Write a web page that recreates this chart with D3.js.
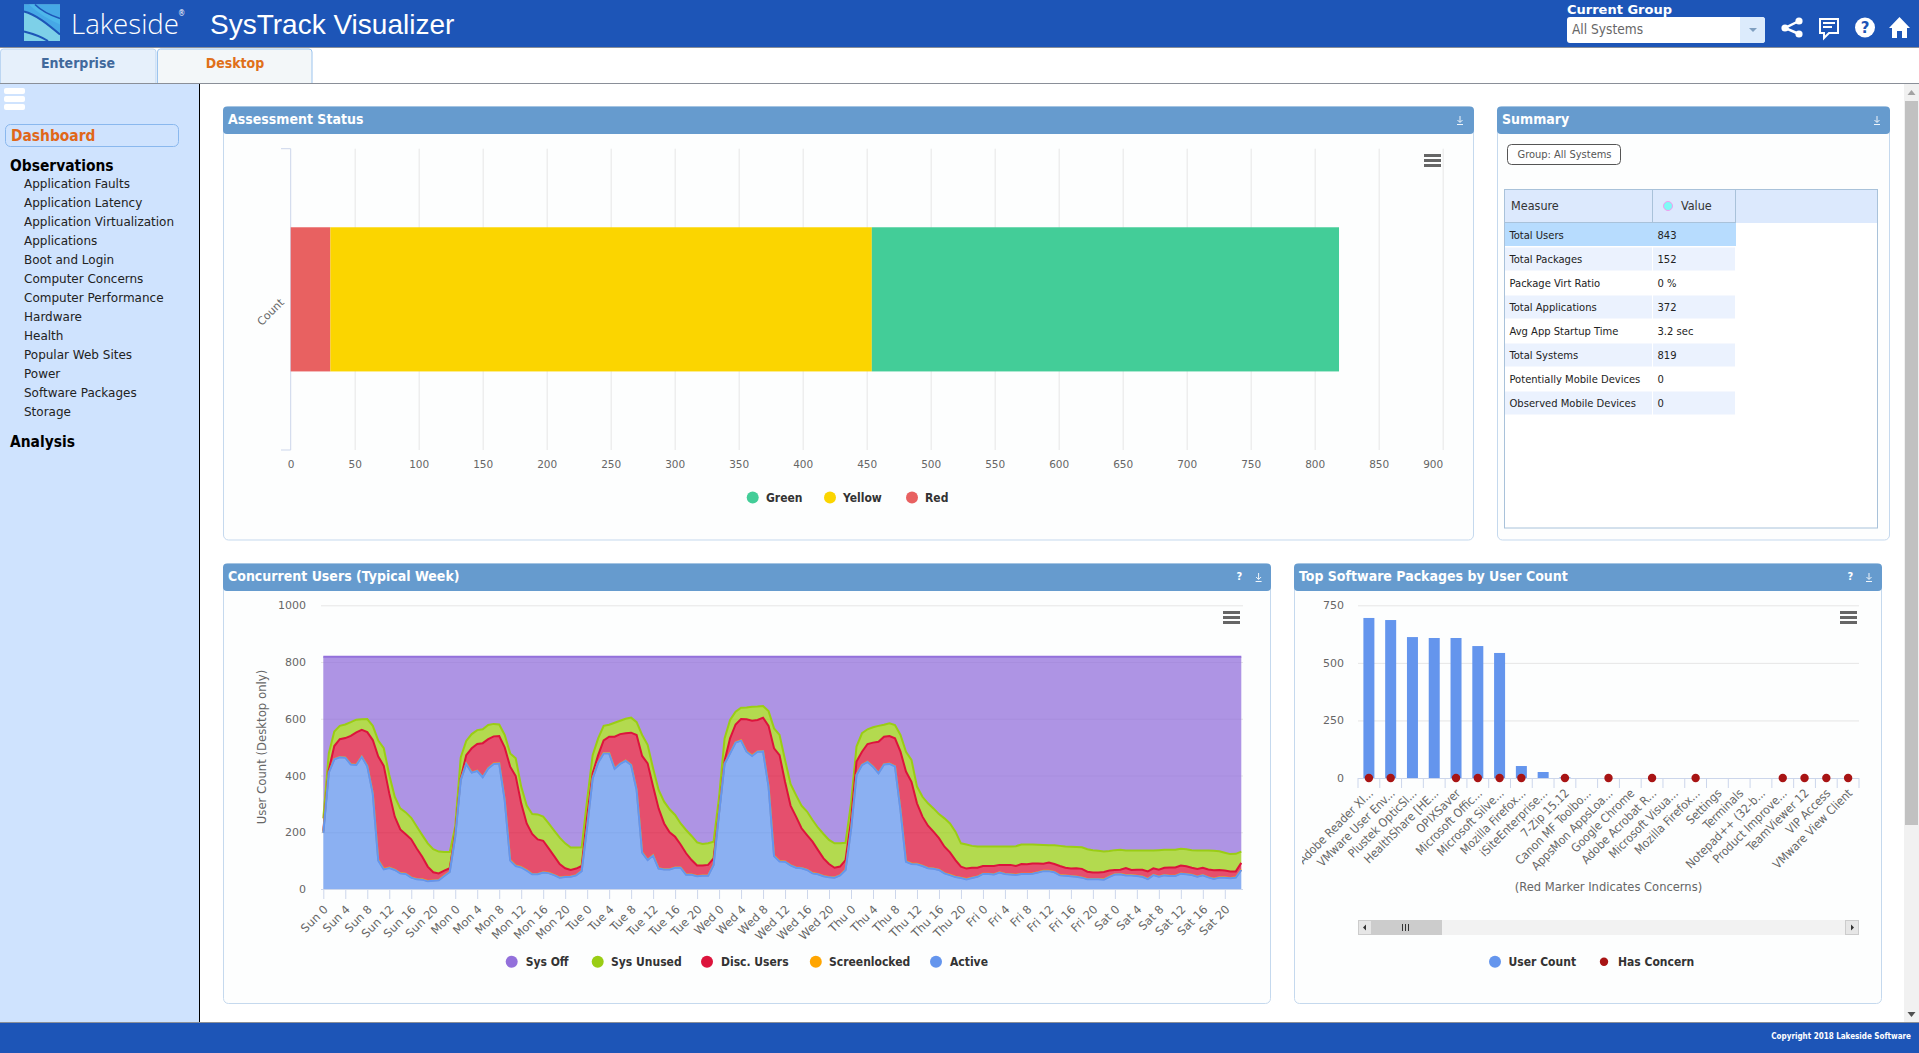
<!DOCTYPE html>
<html>
<head>
<meta charset="utf-8">
<title>SysTrack Visualizer</title>
<script src="https://cdnjs.cloudflare.com/ajax/libs/d3/7.8.5/d3.min.js"></script>
<style>
  html, body { margin: 0; padding: 0; background: #fff; overflow: hidden; }
  svg { display: block; }
  text { font-family: "DejaVu Sans Condensed", "DejaVu Sans", sans-serif; }
</style>
</head>
<body>
<svg id="page"></svg>
<script>
// assessment status
const statusNames = ["Red", "Yellow", "Green"];
const statusValues = [31, 423, 365];
const statusTicks = d3.range(0, 901, 50);

// summary table
const summaryMeasures = ["Total Users", "Total Packages", "Package Virt Ratio", "Total Applications", "Avg App Startup Time", "Total Systems", "Potentially Mobile Devices", "Observed Mobile Devices"];
const summaryValues = ["843", "152", "0 %", "372", "3.2 sec", "819", "0", "0"];

// side menu
const menuItems = ["Application Faults", "Application Latency", "Application Virtualization", "Applications", "Boot and Login", "Computer Concerns", "Computer Performance", "Hardware", "Health", "Popular Web Sites", "Power", "Software Packages", "Storage"];

// concurrent users, one row per day, each value is the top of that stacked layer
const dayNames = ["Sun", "Mon", "Tue", "Wed", "Thu", "Fri", "Sat"];
const activeTop = [
  198,410,457,464,463,439,437,466,433,337,100,69,74,67,55,53,40,34,33,27,29,31,46,60,
  184,384,441,410,416,394,425,441,442,314,100,81,76,65,52,52,58,56,49,40,42,43,48,63,
  220,390,445,478,478,424,441,452,437,349,128,102,118,72,69,69,75,75,50,50,45,47,47,85,
  267,441,478,516,523,484,469,484,485,361,116,97,96,83,75,73,67,55,52,45,41,40,48,67,
  208,402,437,448,431,408,439,441,432,278,96,88,87,81,73,71,67,55,49,42,39,34,39,43,
  53,53,51,58,53,51,49,53,53,54,58,63,63,59,48,47,45,43,40,34,34,34,33,43,
  51,52,48,48,46,43,35,49,43,48,46,46,54,52,49,43,48,41,35,40,40,38,40,67
];
const screenlocked = [
  1,1,1,1,1,1,1,1,1,1,2,2,2,1,1,1,1,1,1,1,1,1,1,1,
  1,1,1,1,1,1,1,1,1,1,2,2,2,2,1,1,1,1,1,1,1,1,1,1,
  1,1,1,1,1,1,1,1,1,1,2,1,1,1,1,1,1,1,1,1,1,1,1,1,
  1,1,1,1,1,1,2,1,1,1,2,2,1,1,1,1,1,1,1,1,1,1,1,1,
  1,1,1,1,1,1,1,1,1,1,2,2,2,1,1,1,1,1,1,1,1,1,1,1,
  1,1,1,1,1,1,1,1,1,1,1,1,1,1,1,1,1,1,1,1,1,1,1,1,
  1,1,1,1,1,1,1,1,1,1,1,1,1,1,1,1,1,1,1,1,1,1,1,1
];
const discTop = [
  205,420,504,528,532,540,552,561,553,525,467,434,337,255,210,193,175,143,114,79,59,55,65,73,
  196,390,472,496,511,514,528,538,539,499,431,398,302,231,194,175,170,143,116,88,73,67,72,81,
  255,408,472,524,537,537,546,549,551,543,469,443,361,284,231,200,184,157,126,102,83,83,85,108,
  272,452,531,580,599,598,593,596,604,575,496,472,378,294,255,214,190,167,137,108,88,75,79,102,
  243,449,484,511,516,519,537,539,531,484,414,378,302,255,223,202,179,149,129,102,79,72,75,75,
  81,81,81,85,85,85,81,88,87,90,90,89,93,88,81,75,72,73,71,61,58,58,60,65,
  67,68,74,67,68,68,62,73,68,75,76,76,83,80,75,71,75,69,66,67,65,62,62,92
];
const unusedTop = [
  249,478,555,575,580,588,597,598,599,575,523,496,402,325,284,270,251,220,190,161,140,132,130,130,
  220,464,522,546,560,563,578,582,580,543,478,461,361,294,264,263,255,231,206,181,161,146,146,147,
  314,472,531,575,579,586,593,600,604,588,543,508,425,349,308,281,261,231,208,187,164,159,161,167,
  325,531,596,625,639,640,642,643,645,627,566,543,455,370,331,294,273,243,216,194,173,161,161,163,
  302,502,549,563,570,575,579,584,578,543,484,455,361,325,302,284,264,249,231,202,161,157,152,150,
  150,150,150,150,150,150,151,157,157,157,156,155,154,154,152,150,149,148,147,140,137,135,132,134,
  137,138,136,136,136,136,136,136,137,138,138,138,142,140,137,136,136,136,135,133,128,123,124,132
];
const offTop = [
  819,819,819,819,819,819,819,819,819,819,819,819,819,819,819,819,819,819,819,819,819,819,819,819,
  819,819,819,819,819,819,819,819,819,819,819,819,819,819,819,819,819,819,819,819,819,819,819,819,
  819,819,819,819,819,819,819,819,819,819,819,819,819,819,819,819,819,819,819,819,819,819,819,819,
  819,819,819,819,819,819,819,819,819,819,819,819,819,819,819,819,819,819,819,819,819,819,819,819,
  819,819,819,819,819,819,819,819,819,819,819,819,819,819,819,819,819,819,819,819,819,819,819,819,
  819,819,819,819,819,819,819,819,819,819,819,819,819,819,819,819,819,819,819,819,819,819,819,819,
  819,819,819,819,819,819,819,819,819,819,819,819,819,819,819,819,819,819,819,819,819,819,819,819
];
const userTicks = [0, 200, 400, 600, 800, 1000];

// top software packages
const packageNames = ["Adobe Reader XI...", "VMware User Env...", "Plustek OpticSl...", "HealthShare [HE...", "OPIXSaver", "Microsoft Offic...", "Microsoft Silve...", "Mozilla Firefox...", "iSiteEnterprise...", "7-Zip 15.12", "Canon MF Toolbo...", "AppsMon AppsLoa...", "Google Chrome", "Adobe Acrobat R...", "Microsoft Visua...", "Mozilla Firefox...", "Settings", "Terminals", "Notepad++ (32-b...", "Product Improve...", "TeamViewer 12", "VIP Access", "VMware View Client"];
const packageUsers = [695, 686, 612, 608, 608, 573, 543, 52, 26, 3, 0, 0, 0, 0, 0, 0, 0, 0, 0, 0, 0, 0, 0];
const packageConcern = [1, 1, 0, 0, 1, 1, 1, 1, 0, 1, 0, 1, 0, 1, 0, 1, 0, 0, 0, 1, 1, 1, 1];
const packageTicks = [0, 250, 500, 750];

const width = 1919;
const height = 1053;
const headerBlue = "#1d55b7";
const panelBlue = "#669bce";
const gridColor = "#e6e6e6";
const axisColor = "#ccd6eb";
const labelColor = "#666666";
const wideFont = "'DejaVu Sans', sans-serif";

const svg = d3.select("#page").attr("width", width).attr("height", height);

const addText = (parent, x, y, str, size, fill, weight, anchor) => {
  return parent
    .append("text")
    .attr("x", x)
    .attr("y", y)
    .attr("dy", "0.35em")
    .attr("font-size", size)
    .attr("fill", fill)
    .attr("font-weight", weight || "normal")
    .attr("text-anchor", anchor || "start")
    .text(str);
};

const drawHeader = () => {
  svg.append("rect").attr("width", width).attr("height", 47).attr("fill", headerBlue);
  svg.append("rect").attr("y", 47).attr("width", width).attr("height", 1).attr("fill", "#8a8f98");

  // logo
  const logo = svg.append("g").attr("transform", "translate(24,4.5)");
  logo.append("rect").attr("width", 36).attr("height", 36.5).attr("fill", "#7dd0e8");
  logo.append("path").attr("d", "M0,0 H36 V30 C24,20 12,10 0,7 Z").attr("fill", "#46a8e6");
  logo.append("path").attr("d", "M11,0 C18,7 27,11 36,14 V20 C27,16 14,9 5,0 Z").attr("fill", "#4db6ea");
  logo.append("path").attr("d", "M0,7 C12,10 24,20 36,30").attr("fill", "none").attr("stroke", headerBlue).attr("stroke-width", 2);
  logo.append("path").attr("d", "M11,0 C18,7 27,11 36,14").attr("fill", "none").attr("stroke", headerBlue).attr("stroke-width", 1.6);
  logo.append("path").attr("d", "M0,27 C8,29 17,32 24,36.5").attr("fill", "none").attr("stroke", headerBlue).attr("stroke-width", 2);

  addText(svg, 71, 24, "Lakeside", 27.6, "#ffffff").style("font-family", "'Open Sans', sans-serif").attr("font-weight", 300);
  addText(svg, 178, 13, "®", 8, "#ffffff");
  addText(svg, 210, 24, "SysTrack Visualizer", 28, "#ffffff").style("font-family", "'Liberation Sans', sans-serif");

  addText(svg, 1567, 9.5, "Current Group", 13, "#ffffff", "bold").style("font-family", wideFont);
  svg.append("rect").attr("x", 1567).attr("y", 17).attr("width", 198).attr("height", 26).attr("rx", 3).attr("fill", "#ffffff");
  svg.append("path").attr("d", "M1740,17 H1762 a3,3 0 0 1 3,3 V40 a3,3 0 0 1 -3,3 H1740 Z").attr("fill", "#dcebfc");
  svg.append("path").attr("d", "M1749,28 h8 l-4,4 Z").attr("fill", "#7f9fc0");
  addText(svg, 1572, 29.3, "All Systems", 13.6, "#666666");

  // share icon
  const share = svg.append("g").attr("fill", "#ffffff").attr("stroke", "#ffffff");
  share.append("path").attr("d", "M1799,21 L1785,28 L1799,34").attr("fill", "none").attr("stroke-width", 2.5);
  [[1799, 21], [1785, 28], [1799, 34]].forEach((c) => {
    share.append("circle").attr("cx", c[0]).attr("cy", c[1]).attr("r", 3.6).attr("stroke", "none");
  });
  // chat icon
  svg.append("path").attr("d", "M1820,19 H1838 V33 H1829 L1824,38 V33 H1820 Z").attr("fill", "none").attr("stroke", "#ffffff").attr("stroke-width", 2);
  svg.append("path").attr("d", "M1823,23 H1835 M1823,27 H1832").attr("stroke", "#ffffff").attr("stroke-width", 2);
  // help icon
  svg.append("circle").attr("cx", 1865).attr("cy", 27.5).attr("r", 10).attr("fill", "#ffffff");
  addText(svg, 1865, 27.5, "?", 15, headerBlue, "bold", "middle").style("font-family", wideFont);
  // home icon
  svg.append("path").attr("d", "M1899.5,17 L1910,28 H1907 V38 H1902 V31 H1897 V38 H1892 V28 H1889 Z").attr("fill", "#ffffff");
};

const drawTabs = () => {
  svg.append("rect").attr("y", 83).attr("width", width).attr("height", 1).attr("fill", "#8a8f98");
  svg.append("path").attr("d", "M0.5,83 V52 a3,3 0 0 1 3,-3 H153 a3,3 0 0 1 3,3 V83").attr("fill", "#e6f0fb").attr("stroke", "#bcd6f2");
  svg.append("path").attr("d", "M157.5,83 V52 a3,3 0 0 1 3,-3 H309 a3,3 0 0 1 3,3 V83").attr("fill", "#f3f7f9").attr("stroke", "#9cc4ee");
  addText(svg, 78, 63, "Enterprise", 14, "#41699c", "bold", "middle");
  addText(svg, 235, 63, "Desktop", 14, "#e0701a", "bold", "middle");
};

const drawSideMenu = () => {
  svg.append("rect").attr("y", 84).attr("width", 199).attr("height", 939).attr("fill", "#cfe3fe");
  svg.append("rect").attr("x", 199).attr("y", 84).attr("width", 1).attr("height", 939).attr("fill", "#000000");
  [88, 96, 104].forEach((y) => {
    svg.append("rect").attr("x", 4).attr("y", y).attr("width", 21).attr("height", 6).attr("rx", 2).attr("fill", "#ffffff");
  });
  svg.append("rect").attr("x", 5.5).attr("y", 124.5).attr("width", 173).attr("height", 22).attr("rx", 5).attr("fill", "none").attr("stroke", "#8ab8ee");
  addText(svg, 11, 135.5, "Dashboard", 15.4, "#e0671a", "bold");
  addText(svg, 10, 166, "Observations", 15.4, "#000000", "bold");
  menuItems.forEach((item, i) => {
    addText(svg, 24, 183.3 + i * 19.02, item, 12, "#222222").style("font-family", wideFont);
  });
  addText(svg, 10, 442, "Analysis", 15.4, "#000000", "bold");
};

const drawFooter = () => {
  svg.append("rect").attr("y", 1022).attr("width", width).attr("height", 1).attr("fill", "#8a8f98");
  svg.append("rect").attr("y", 1023).attr("width", width).attr("height", 30).attr("fill", headerBlue);
  addText(svg, 1911, 1036, "Copyright 2018 Lakeside Software", 8, "#ffffff", "bold", "end");
};

const drawScrollbar = () => {
  svg.append("rect").attr("x", 1904).attr("y", 84).attr("width", 15).attr("height", 938).attr("fill", "#f1f1f1");
  svg.append("rect").attr("x", 1905).attr("y", 101).attr("width", 13).attr("height", 724).attr("fill", "#c1c1c1");
  svg.append("path").attr("d", "M1911.5,90 l4,5 h-8 Z").attr("fill", "#a3a3a3");
  svg.append("path").attr("d", "M1911.5,1017 l4,-5 h-8 Z").attr("fill", "#505050");
};

const drawDownloadIcon = (x, y) => {
  svg
    .append("path")
    .attr("d", `M${x},${y - 4} V${y + 2} M${x - 2.5},${y} L${x},${y + 2.5} L${x + 2.5},${y} M${x - 3},${y + 4.5} H${x + 3}`)
    .attr("fill", "none")
    .attr("stroke", "#ffffff")
    .attr("stroke-width", 0.9);
};

const drawPanel = (x, y, w, h, title, iconX, helpX) => {
  svg.append("rect").attr("x", x + 0.5).attr("y", y + 0.5).attr("width", w).attr("height", h).attr("rx", 5).attr("fill", "#fdfefe").attr("stroke", "#c5d9ee");
  svg
    .append("path")
    .attr("d", `M${x},${y + 27.5} V${y + 4} a4,4 0 0 1 4,-4 H${x + w - 3} a4,4 0 0 1 4,4 V${y + 23.5} a4,4 0 0 1 -4,4 H${x + 4} a4,4 0 0 1 -4,-4 Z`)
    .attr("fill", panelBlue);
  addText(svg, x + 5, y + 12.5, title, 14, "#ffffff", "bold");
  drawDownloadIcon(iconX, y + 13.5);
  if (helpX) {
    addText(svg, helpX, y + 13, "?", 11, "#ffffff", "bold", "middle");
  }
};

const drawHamburger = (x, y) => {
  [0, 5, 10].forEach((d) => {
    svg.append("rect").attr("x", x).attr("y", y + d).attr("width", 17).attr("height", 3).attr("fill", "#666666");
  });
};

const drawLegendEntry = (g, cx, y, color, name, textX, r) => {
  g.append("circle").attr("cx", cx).attr("cy", y).attr("r", r || 6).attr("fill", color);
  addText(g, textX, y, name, 12, "#333333", "bold");
};

const drawAssessment = () => {
  drawPanel(223, 106.5, 1250, 433, "Assessment Status", 1460);
  const g = svg.append("g");

  const xScale = d3.scaleLinear().domain([0, 900]).range([290.7, 1442.7]);
  const yScale = d3.scaleBand().domain(["Count"]).range([148.7, 450]).paddingOuter(0.545);

  const xAxis = d3.axisBottom(xScale).tickValues(statusTicks).tickSize(-301.3).tickPadding(11);
  const axisG = g.append("g").attr("transform", "translate(0,450)").call(xAxis);
  axisG.select(".domain").remove();
  axisG.selectAll("line").attr("stroke", gridColor);
  axisG.selectAll(".tick:first-of-type line").remove();
  axisG.selectAll("text").attr("fill", labelColor).attr("font-size", 10.5).style("font-family", wideFont);
  axisG.selectAll(".tick:last-of-type text").attr("dx", -10);

  // vertical category axis with its end ticks
  g.append("path").attr("d", "M281,148.7 H290.7 V450 H281").attr("fill", "none").attr("stroke", axisColor);

  const row = {};
  statusNames.forEach((name, i) => {
    row[name] = statusValues[i];
  });
  const layers = d3.stack().keys(statusNames)([row]);
  const colors = { Red: "#e86161", Yellow: "#fbd500", Green: "#43cd98" };

  g.selectAll(".bar")
    .data(layers)
    .enter()
    .append("rect")
    .attr("class", "bar")
    .attr("x", (d) => xScale(d[0][0]))
    .attr("width", (d) => xScale(d[0][1]) - xScale(d[0][0]))
    .attr("y", yScale("Count"))
    .attr("height", yScale.bandwidth())
    .attr("fill", (d) => colors[d.key]);

  addText(g, 0, 0, "Count", 11, labelColor, "normal", "middle")
    .attr("transform", "translate(270.5,312) rotate(-45)")
    .style("font-family", wideFont);

  drawLegendEntry(g, 752.7, 497.5, colors.Green, "Green", 766);
  drawLegendEntry(g, 830, 497.5, colors.Yellow, "Yellow", 843);
  drawLegendEntry(g, 912, 497.5, colors.Red, "Red", 925);
  drawHamburger(1424, 154);
};

const drawSummary = () => {
  drawPanel(1497, 106.5, 392, 433, "Summary", 1877);
  const g = svg.append("g");

  g.append("rect").attr("x", 1507.5).attr("y", 144.5).attr("width", 113).attr("height", 20).attr("rx", 4).attr("fill", "#ffffff").attr("stroke", "#555555");
  addText(g, 1564.5, 154.5, "Group: All Systems", 11, "#555555", "normal", "middle");

  g.append("rect").attr("x", 1504.5).attr("y", 189.5).attr("width", 373).attr("height", 338.5).attr("fill", "#ffffff").attr("stroke", "#a9c2da");
  g.append("rect").attr("x", 1505).attr("y", 190).attr("width", 372).attr("height", 33).attr("fill", "#dce9fd");
  [1652.5, 1735.5].forEach((x) => {
    g.append("line").attr("x1", x).attr("x2", x).attr("y1", 190).attr("y2", 223).attr("stroke", "#a9c2da");
  });
  g.append("line").attr("x1", 1505).attr("x2", 1736).attr("y1", 222.5).attr("y2", 222.5).attr("stroke", "#a9c2da");
  addText(g, 1511, 205.5, "Measure", 12.5, "#333333");
  g.append("circle").attr("cx", 1668).attr("cy", 206).attr("r", 4.5).attr("fill", "#7ffaf5").attr("stroke", "#f59af0");
  addText(g, 1681, 205.5, "Value", 12.5, "#333333");

  const rowHeight = 24;
  summaryMeasures.forEach((measure, i) => {
    const top = 223 + i * rowHeight;
    if (i === 0) {
      g.append("rect").attr("x", 1505).attr("y", top).attr("width", 231).attr("height", 23).attr("fill", "#b7dcfe");
    } else if (i % 2 === 1) {
      g.append("rect").attr("x", 1505).attr("y", top + 0.5).attr("width", 147).attr("height", 23).attr("fill", "#ebf2fe");
      g.append("rect").attr("x", 1653).attr("y", top + 0.5).attr("width", 82).attr("height", 23).attr("fill", "#ebf2fe");
    }
    addText(g, 1509.5, top + 11.7, measure, 11.1, "#222222");
    addText(g, 1657.5, top + 11.7, summaryValues[i], 11.1, "#222222");
  });
};

const drawConcurrent = () => {
  drawPanel(223, 563.5, 1047, 439.5, "Concurrent Users (Typical Week)", 1258.6, 1239.4);
  const g = svg.append("g");

  const xScale = d3.scaleLinear().domain([0, 167]).range([323.3, 1241.3]);
  const yScale = d3.scaleLinear().domain([0, 1000]).range([889, 605.3]);

  const yAxis = d3.axisLeft(yScale).tickValues(userTicks).tickSize(-922).tickFormat(d3.format("d"));
  const yG = g.append("g").attr("transform", "translate(321,0)").call(yAxis);
  yG.select(".domain").remove();
  yG.selectAll("line").attr("stroke", gridColor);
  yG.selectAll("text").attr("fill", labelColor).attr("font-size", 11).attr("x", -15).style("font-family", wideFont);

  // stacked layers, back to front
  const lockedTop = activeTop.map((v, i) => v + screenlocked[i]);
  const layers = [
    { name: "Sys Off", color: "#9370db", top: offTop, base: unusedTop },
    { name: "Sys Unused", color: "#9acd14", top: unusedTop, base: discTop },
    { name: "Disc. Users", color: "#dc143c", top: discTop, base: lockedTop },
    { name: "Screenlocked", color: "#ffa500", top: lockedTop, base: activeTop },
    { name: "Active", color: "#6495ed", top: activeTop, base: activeTop.map(() => 0) },
  ];
  const hours = d3.range(activeTop.length);

  layers.forEach((layer) => {
    const area = d3
      .area()
      .x((h) => xScale(h))
      .y0((h) => yScale(layer.base[h]))
      .y1((h) => yScale(layer.top[h]));
    const line = d3
      .line()
      .x((h) => xScale(h))
      .y((h) => yScale(layer.top[h]));
    g.append("path").datum(hours).attr("d", area).attr("fill", layer.color).attr("fill-opacity", 0.75);
    g.append("path").datum(hours).attr("d", line).attr("fill", "none").attr("stroke", layer.color).attr("stroke-width", 2);
  });

  const xAxis = d3
    .axisBottom(xScale)
    .tickValues(d3.range(0, 168, 4))
    .tickSize(10)
    .tickFormat((h) => `${dayNames[Math.floor(h / 24)]} ${h % 24}`);
  const xG = g.append("g").attr("transform", "translate(0,889)").call(xAxis);
  xG.select(".domain").attr("d", "M321,0.5 H1243").attr("stroke", axisColor);
  xG.selectAll("line").attr("stroke", axisColor);
  xG.selectAll("text")
    .attr("y", 0)
    .attr("dy", 0)
    .attr("text-anchor", "end")
    .attr("fill", labelColor)
    .attr("font-size", 11.5)
    .attr("transform", "translate(5,21) rotate(-45)")
    .style("font-family", wideFont);

  addText(g, 0, 0, "User Count (Desktop only)", 11.7, labelColor, "normal", "middle")
    .attr("transform", "translate(261.7,747) rotate(-90)")
    .style("font-family", wideFont);

  drawLegendEntry(g, 511.7, 961.7, "#9370db", "Sys Off", 525.7);
  drawLegendEntry(g, 597.7, 961.7, "#9acd14", "Sys Unused", 611);
  drawLegendEntry(g, 707, 961.7, "#dc143c", "Disc. Users", 721);
  drawLegendEntry(g, 815.8, 961.7, "#ffa500", "Screenlocked", 829);
  drawLegendEntry(g, 936, 961.7, "#6495ed", "Active", 950);
  drawHamburger(1223, 611);
};

const drawPackages = () => {
  drawPanel(1294, 563.5, 587, 439.5, "Top Software Packages by User Count", 1869, 1850.4);
  const g = svg.append("g");

  const xScale = d3.scaleBand().domain(d3.range(packageNames.length)).range([1358, 1859]);
  const yScale = d3.scaleLinear().domain([0, 750]).range([778, 605.3]);

  const yAxis = d3.axisLeft(yScale).tickValues(packageTicks).tickSize(-501);
  const yG = g.append("g").attr("transform", "translate(1358,0)").call(yAxis);
  yG.select(".domain").remove();
  yG.selectAll("line").attr("stroke", gridColor);
  yG.selectAll("text").attr("fill", labelColor).attr("font-size", 11).attr("x", -14).style("font-family", wideFont);

  const barWidth = 11;
  const centre = (i) => xScale(i) + xScale.bandwidth() / 2;

  g.selectAll(".bar")
    .data(packageUsers)
    .enter()
    .append("rect")
    .attr("class", "bar")
    .attr("x", (d, i) => centre(i) - barWidth / 2)
    .attr("y", (d) => yScale(d))
    .attr("width", barWidth)
    .attr("height", (d) => yScale(0) - yScale(d))
    .attr("fill", "#6495ed");

  // axis line with a tick between each category
  g.append("line").attr("x1", 1358).attr("x2", 1859).attr("y1", 778.5).attr("y2", 778.5).attr("stroke", axisColor);
  d3.range(packageNames.length + 1).forEach((i) => {
    const x = i < packageNames.length ? xScale(i) : 1859;
    g.append("line").attr("x1", x).attr("x2", x).attr("y1", 778).attr("y2", 788).attr("stroke", axisColor);
  });

  const concernIndex = d3.range(packageConcern.length).filter((i) => packageConcern[i] === 1);
  g.selectAll(".concern")
    .data(concernIndex)
    .enter()
    .append("circle")
    .attr("class", "concern")
    .attr("cx", (i) => centre(i))
    .attr("cy", yScale(0))
    .attr("r", 4.2)
    .attr("fill", "#a81414");

  svg.append("clipPath").attr("id", "labelClip").append("rect").attr("x", 1302).attr("y", 780).attr("width", 570).attr("height", 120);
  const labels = g.append("g").attr("clip-path", "url(#labelClip)");
  packageNames.forEach((name, i) => {
    labels
      .append("text")
      .attr("text-anchor", "end")
      .attr("font-size", 12)
      .attr("fill", labelColor)
      .attr("transform", `translate(${centre(i) + 5},794) rotate(-45)`)
      .text(name);
  });

  addText(g, 1608.5, 886.7, "(Red Marker Indicates Concerns)", 12.8, labelColor, "normal", "middle");

  // navigator scrollbar
  g.append("rect").attr("x", 1358).attr("y", 920).attr("width", 501).attr("height", 15).attr("fill", "#f2f2f2");
  g.append("rect").attr("x", 1358.5).attr("y", 920.5).attr("width", 13).attr("height", 14).attr("fill", "#e6e6e6").attr("stroke", "#cccccc");
  g.append("rect").attr("x", 1845.5).attr("y", 920.5).attr("width", 13).attr("height", 14).attr("fill", "#e6e6e6").attr("stroke", "#cccccc");
  g.append("rect").attr("x", 1371).attr("y", 920).attr("width", 71).attr("height", 15).attr("fill", "#cccccc");
  g.append("path").attr("d", "M1402.5,924 v7 M1405.5,924 v7 M1408.5,924 v7").attr("stroke", "#333333");
  g.append("path").attr("d", "M1366,924.5 v6 l-3,-3 Z").attr("fill", "#333333");
  g.append("path").attr("d", "M1851,924.5 v6 l3,-3 Z").attr("fill", "#333333");

  drawLegendEntry(g, 1495, 961.7, "#6495ed", "User Count", 1508.6);
  drawLegendEntry(g, 1604, 961.7, "#a81414", "Has Concern", 1618, 4.2);
  drawHamburger(1840, 611);
};

drawHeader();
drawTabs();
drawSideMenu();
drawFooter();
drawScrollbar();
drawAssessment();
drawSummary();
drawConcurrent();
drawPackages();
</script>
</body>
</html>
